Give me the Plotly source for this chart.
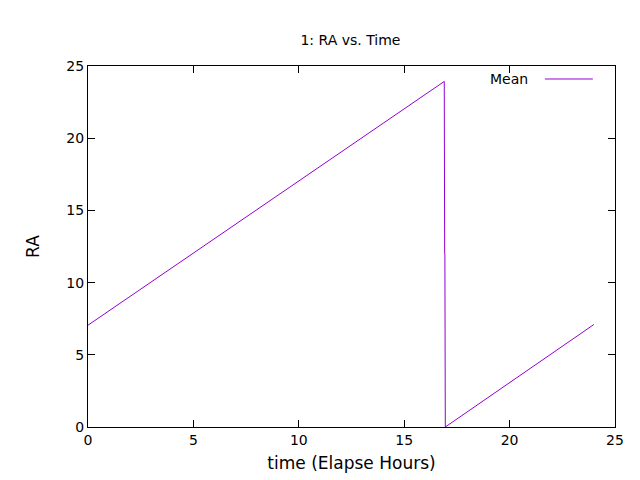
import plotly.graph_objects as go

# RA vs elapsed time
hours = [0.0, 16.9, 16.92, 16.93, 16.95, 24.0]
ra = [7.05, 23.93, 12.0, 12.0, 0.0, 7.1]

fig = go.Figure()
fig.add_trace(go.Scatter(x=hours, y=ra, mode='lines', line=dict(color='#9400D3', width=1),
                         name='Mean', showlegend=False))

# legend gnuplot-style: text left of the sample line
fig.add_annotation(x=0.839, y=0.964, xref='paper', yref='paper', text='Mean', showarrow=False,
                   xanchor='right', yanchor='middle', font=dict(size=14, color='black'))
fig.add_shape(type='line', xref='paper', yref='paper', x0=0.867, x1=0.958, y0=0.964, y1=0.964,
              line=dict(color='#9400D3', width=1))

axis = dict(showline=True, linecolor='black', linewidth=1, mirror='ticks', ticks='inside',
            ticklen=7, tickcolor='black', showgrid=False, zeroline=False, automargin=False,
            tickfont=dict(size=14, color='black'))
fig.update_layout(
    width=640, height=480,
    margin=dict(l=80, r=33, t=58, b=61),
    plot_bgcolor='white', paper_bgcolor='white',
    font=dict(family='DejaVu Sans', size=14, color='black'),
    title=dict(text='1: RA vs. Time', x=0.535, xanchor='center', y=0.943, font=dict(size=14)),
    xaxis=dict(axis, range=[0, 25], dtick=5, title=dict(text='time (Elapse Hours)', standoff=10)),
    yaxis=dict(axis, range=[0, 25], dtick=5, title=dict(text='RA', standoff=22)),
)

fig.write_html("out.html")
